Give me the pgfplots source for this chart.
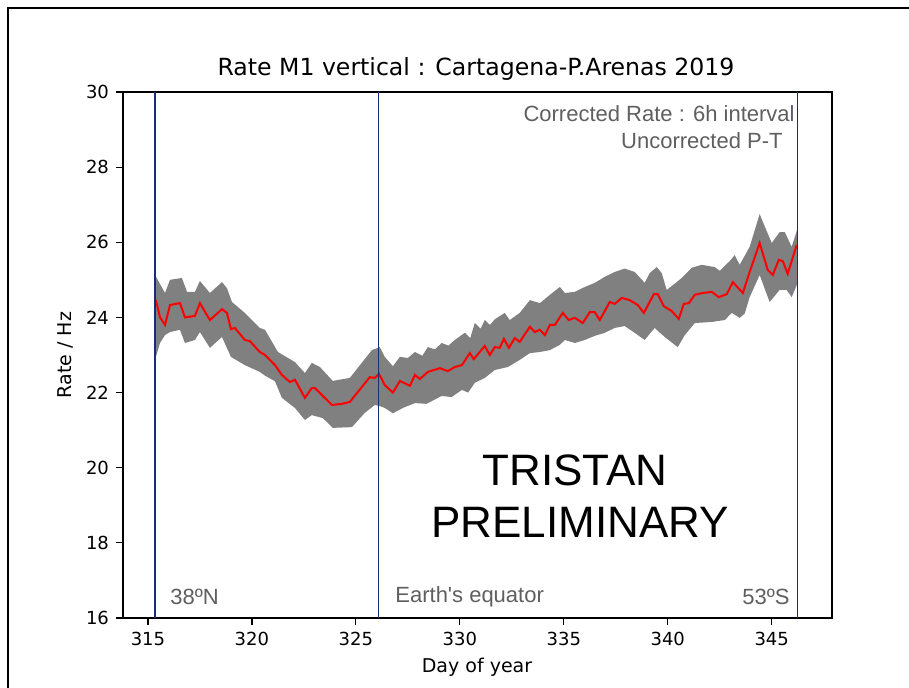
\documentclass[border=0pt]{standalone}
\usepackage{fontspec}
\setmainfont{DejaVu Sans}
\newfontfamily\arial{Liberation Sans}
\usepackage{pgfplots}
\pgfplotsset{compat=1.18}
\usepgfplotslibrary{fillbetween}
\definecolor{vline}{RGB}{22,45,120}
\definecolor{band}{RGB}{128,128,128}
\definecolor{annot}{RGB}{95,95,95}
\begin{document}
\begin{tikzpicture}
\begin{axis}[
  at={(0pt,0pt)}, anchor=south west,
  scale only axis, width=354.5pt, height=263pt,
  xmin=313.8, xmax=347.9, ymin=16, ymax=30,
  xtick={315,320,...,345}, ytick={16,18,...,30},
  tick align=outside, major tick length=3.5pt,
  tick style={black, line width=0.6pt},
  axis line style={line width=0.7pt},
  xtick pos=bottom, ytick pos=left,
  /pgf/number format/assume math mode=true,
  ticklabel style={font=\fontsize{9}{10}\selectfont},
  clip=false,
]
\addplot[draw=none, name path=up] coordinates {
(315.34,25.13) (315.82,24.65) (316.06,25.00) (316.63,25.05) (316.88,24.68) (317.26,24.68)
(317.50,24.97) (317.98,24.65) (318.56,24.94) (318.80,24.78) (319.04,24.41) (319.66,24.12)
(320.38,23.72) (320.63,23.67) (321.25,23.08) (322.07,22.81) (322.55,22.52) (322.88,22.79)
(323.27,22.68) (323.89,22.31) (324.71,22.39) (325.77,23.13) (326.15,23.21) (326.39,22.95)
(326.78,22.70) (327.12,22.95) (327.50,22.92) (327.84,23.08) (328.20,22.98) (328.46,23.21)
(328.80,23.15) (329.13,23.32) (329.45,23.25) (329.76,23.40) (330.24,23.59) (330.50,23.45)
(330.72,23.85) (331.00,23.70) (331.20,23.93) (331.45,23.80) (331.68,23.95) (332.16,24.12)
(332.40,23.93) (332.88,24.12) (333.37,24.46) (333.85,24.38) (334.33,24.60) (334.81,24.81)
(335.05,24.65) (335.53,24.68) (336.01,24.81) (336.49,24.92) (336.97,25.08) (337.45,25.21)
(337.93,25.30) (338.41,25.21) (338.89,24.92) (339.13,25.18) (339.47,25.34) (339.71,25.18)
(339.95,24.73) (340.43,24.94) (340.67,25.05) (341.15,25.32) (341.63,25.40) (342.26,25.34)
(342.50,25.24) (342.98,25.50) (343.22,25.66) (343.46,25.40) (343.94,25.88) (344.42,26.75)
(345.00,25.98) (345.38,26.27) (345.63,26.27) (345.96,25.88) (346.25,26.38)
};
\addplot[draw=none, name path=lo] coordinates {
(315.34,22.87) (315.58,23.32) (315.82,23.53) (316.06,23.61) (316.54,23.67) (316.78,23.32)
(317.26,23.40) (317.50,23.61) (317.98,23.19) (318.56,23.48) (318.99,22.95) (319.66,22.73)
(320.38,22.55) (320.63,22.45) (321.11,22.30) (321.44,21.86) (322.07,21.59) (322.55,21.27)
(322.88,21.40) (323.41,21.32) (323.89,21.06) (324.81,21.08) (325.43,21.46) (325.91,21.67)
(326.15,21.64) (326.39,21.59) (326.78,21.45) (327.30,21.60) (327.84,21.72) (328.40,21.70)
(329.13,21.91) (329.60,21.88) (330.10,22.07) (330.40,22.00) (330.72,22.26) (331.20,22.39)
(331.68,22.60) (332.31,22.68) (332.88,22.87) (333.37,23.05)
(333.85,23.08) (334.33,23.13) (334.81,23.27) (335.05,23.40) (335.53,23.32) (336.01,23.40)
(336.49,23.51) (336.97,23.59) (337.45,23.72) (337.93,23.77) (338.41,23.59) (338.89,23.40)
(339.37,23.72) (339.85,23.48) (340.48,23.21) (340.82,23.53) (341.30,23.85) (342.12,23.88)
(342.74,23.93) (343.08,24.12) (343.46,23.99) (343.70,24.10) (343.94,24.54) (344.42,25.13)
(344.90,24.41) (345.38,24.73) (345.72,24.73) (345.96,24.54) (346.25,24.92)
};
\addplot[band, draw=none] fill between[of=up and lo];
\addplot[red, line width=1pt] coordinates {
(315.38,24.46) (315.58,24.00) (315.82,23.80) (316.06,24.33) (316.54,24.38) (316.78,24.00)
(317.26,24.04) (317.50,24.38) (317.98,23.93) (318.56,24.22) (318.80,24.12) (318.99,23.69)
(319.18,23.72) (319.66,23.40) (319.90,23.37) (320.38,23.08) (320.63,23.00) (321.11,22.73)
(321.44,22.47) (321.83,22.28) (322.07,22.34) (322.55,21.86) (322.88,22.12) (323.03,22.12)
(323.41,21.91) (323.85,21.67) (324.33,21.70) (324.71,21.75) (325.29,22.15) (325.67,22.41)
(325.91,22.39) (326.11,22.50) (326.39,22.20) (326.78,22.00) (327.12,22.31) (327.60,22.18)
(327.84,22.47) (328.08,22.36) (328.46,22.55) (329.04,22.65) (329.42,22.57) (329.76,22.68)
(330.10,22.73) (330.48,23.05) (330.67,22.89) (331.20,23.24) (331.44,23.00) (331.68,23.21)
(331.92,23.19) (332.12,23.43) (332.36,23.19) (332.64,23.45) (332.88,23.35) (333.37,23.75)
(333.61,23.61) (333.85,23.67) (334.09,23.53) (334.33,23.80) (334.57,23.80) (334.95,24.12)
(335.24,23.93) (335.53,23.99) (335.91,23.85) (336.25,24.14) (336.49,24.14) (336.73,23.93)
(337.21,24.41) (337.45,24.36) (337.79,24.52) (338.17,24.46) (338.56,24.33) (338.85,24.12)
(339.13,24.41) (339.33,24.62) (339.52,24.62) (339.81,24.30) (340.19,24.17) (340.53,23.96)
(340.77,24.36) (341.01,24.38) (341.30,24.60) (341.68,24.65) (342.12,24.68) (342.45,24.54)
(342.84,24.62) (343.13,24.94) (343.61,24.65) (343.94,25.21) (344.42,25.98) (344.81,25.26)
(345.05,25.13) (345.34,25.53) (345.53,25.50) (345.77,25.16) (346.20,25.93)
};
\addplot[vline, line width=0.55pt] coordinates {(315.34,16) (315.34,30)};
\addplot[vline, line width=0.55pt] coordinates {(326.08,16) (326.08,30)};
\addplot[vline, line width=0.55pt] coordinates {(346.22,16) (346.22,30)};
\end{axis}
\node[font=\fontsize{11.8}{13}\selectfont] at (176.5pt,274.5pt) {Rate M1 vertical : Cartagena-P.Arenas 2019};
\node[font=\fontsize{9.5}{11}\selectfont, rotate=90] at (-29pt,131.5pt) {Rate / Hz};
\node[font=\fontsize{9.5}{11}\selectfont] at (177pt,-24.5pt) {Day of year};
\node[font=\arial\fontsize{11}{13}\selectfont, text=annot, anchor=east, inner sep=0pt] at (336pt,252pt) {Corrected Rate : 6h interval};
\node[font=\arial\fontsize{11}{13}\selectfont, text=annot, anchor=east, inner sep=0pt] at (330pt,238.5pt) {Uncorrected P-T};
\node[font=\arial\fontsize{11}{13}\selectfont, text=annot, anchor=west, inner sep=0pt] at (23.5pt,10.5pt) {38ºN};
\node[font=\arial\fontsize{11}{13}\selectfont, text=annot, anchor=west, inner sep=0pt] at (136pt,10.5pt) {Earth's equator};
\node[font=\arial\fontsize{11}{13}\selectfont, text=annot, anchor=east, inner sep=0pt] at (333.5pt,10.5pt) {53ºS};
\node[font=\arial\fontsize{22}{26}\selectfont] at (226pt,74pt) {TRISTAN};
\node[font=\arial\fontsize{22}{26}\selectfont] at (228.5pt,48pt) {PRELIMINARY};
\draw[line width=1pt] (-57.5pt,-40pt) -- (-57.5pt,305pt) -- (400pt,305pt);
\pgfresetboundingbox
\path[use as bounding box] (-61.5pt,-35pt) rectangle (393pt,309pt);
\end{tikzpicture}
\end{document}
